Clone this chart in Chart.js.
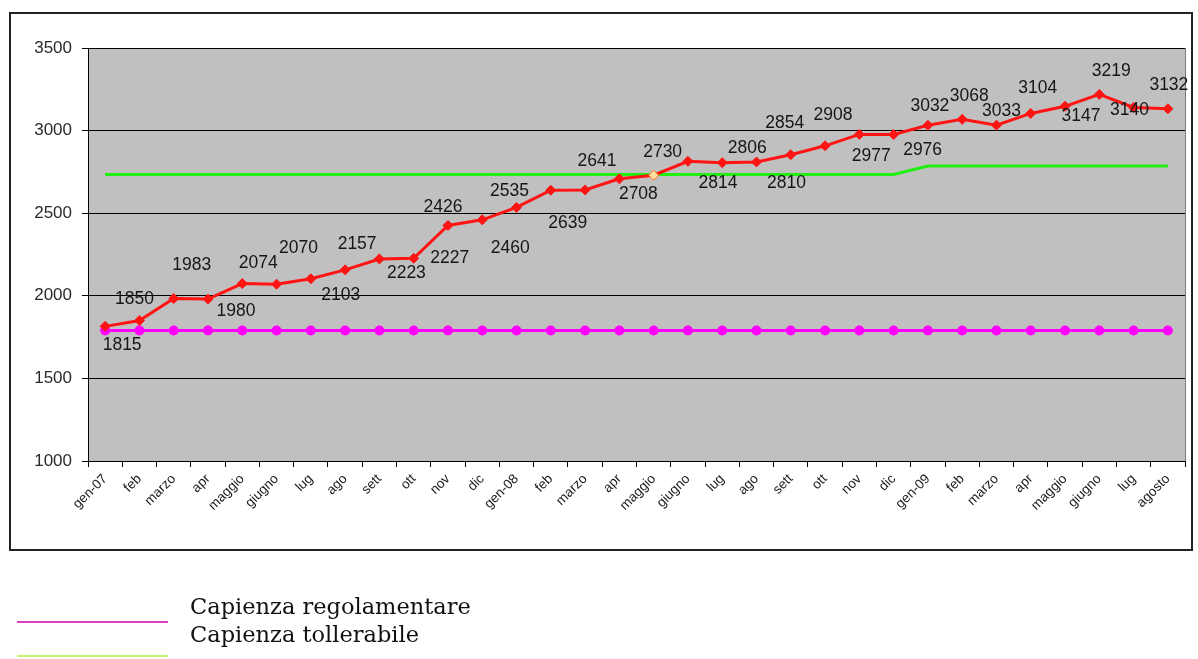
<!DOCTYPE html>
<html>
<head>
<meta charset="utf-8">
<script src="https://cdn.jsdelivr.net/npm/chart.js@4/dist/chart.umd.min.js"></script>
<style>
  html, body { margin: 0; padding: 0; background: #ffffff; }
  #wrap { width: 1198px; height: 659px; position: relative; }
</style>
</head>
<body>
<div id="wrap"><canvas id="c" width="1198" height="659"></canvas></div>
<script>
// Months, Jan 2007 - Aug 2009
const months = ['gen-07','feb','marzo','apr','maggio','giugno','lug','ago','sett','ott','nov','dic',
                'gen-08','feb','marzo','apr','maggio','giugno','lug','ago','sett','ott','nov','dic',
                'gen-09','feb','marzo','apr','maggio','giugno','lug','agosto'];

// Presenze (detainees present)
const presenze = [1815,1850,1983,1980,2074,2070,2103,2157,2223,2227,2426,2460,
                  2535,2639,2641,2708,2730,2814,2806,2810,2854,2908,2977,2976,
                  3032,3068,3033,3104,3147,3219,3140,3132];

// Capienza regolamentare
const capRegolamentare = [1790,1790,1790,1790,1790,1790,1790,1790,1790,1790,1790,1790,
                          1790,1790,1790,1790,1790,1790,1790,1790,1790,1790,1790,1790,
                          1790,1790,1790,1790,1790,1790,1790,1790];

// Capienza tollerabile
const capTollerabile = [2735,2735,2735,2735,2735,2735,2735,2735,2735,2735,2735,2735,
                        2735,2735,2735,2735,2735,2735,2735,2735,2735,2735,2735,2735,
                        2786,2786,2786,2786,2786,2786,2786,2786];

const yTicks = [1000,1500,2000,2500,3000,3500];

// value-label offsets (px) from each point
const labelDX = [17,-5,18,28,16,22,30,12,27,36,-5,28,-7,17,12,19,9,30,25,30,-6,8,12,29,2,7,5,7,16,12,-4,1];
const labelDY = [19,-21,-33,12,-20,-36,16,-26,14,0,-18,28,-16,33,-29,15,-23,22,-14,21,-32,-31,22,16,-19,-23,-14,-25,10,-23,3,-24];

const PLOT_L = 88, PLOT_R = 1185, PLOT_T = 48, PLOT_B = 461;

const frame = {
  id: 'frame',
  beforeDraw(chart) {
    const ctx = chart.ctx, a = chart.chartArea;
    ctx.save();
    ctx.fillStyle = '#ffffff';
    ctx.fillRect(0, 0, chart.width, chart.height);
    // outer box
    ctx.strokeStyle = '#222';
    ctx.lineWidth = 2;
    ctx.strokeRect(10, 13, 1182, 537);
    // plot background
    ctx.fillStyle = '#c0c0c0';
    ctx.fillRect(a.left, a.top, a.right - a.left, a.bottom - a.top);
    ctx.strokeStyle = '#7a7a7a';
    ctx.lineWidth = 1;
    ctx.beginPath();
    ctx.moveTo(a.right + 0.5, a.top);
    ctx.lineTo(a.right + 0.5, a.bottom);
    ctx.stroke();
    ctx.restore();
  },
  afterDraw(chart) {
    const ctx = chart.ctx;
    const meta = chart.getDatasetMeta(2);
    ctx.save();
    ctx.font = '17.5px "Liberation Sans", Arial, sans-serif';
    ctx.fillStyle = '#161616';
    ctx.textAlign = 'center';
    ctx.textBaseline = 'middle';
    meta.data.forEach((pt, i) => {
      ctx.fillText(String(presenze[i]), pt.x + labelDX[i], pt.y + labelDY[i]);
    });
    // legend below the box
    ctx.lineWidth = 2;
    ctx.strokeStyle = '#e040c0';
    ctx.beginPath(); ctx.moveTo(17, 622); ctx.lineTo(168, 622); ctx.stroke();
    ctx.strokeStyle = '#c8f070';
    ctx.beginPath(); ctx.moveTo(17, 656); ctx.lineTo(168, 656); ctx.stroke();
    ctx.font = '22.5px "DejaVu Serif", "Liberation Serif", serif';
    ctx.fillStyle = '#111';
    ctx.textAlign = 'left';
    ctx.textBaseline = 'middle';
    ctx.fillText('Capienza regolamentare', 190, 608);
    ctx.fillText('Capienza tollerabile', 190, 636);
    ctx.restore();
  }
};

new Chart(document.getElementById('c'), {
  type: 'line',
  data: {
    labels: months,
    datasets: [
      {
        label: 'Capienza regolamentare',
        data: capRegolamentare,
        borderColor: '#ff00ff',
        backgroundColor: '#ff00ff',
        borderWidth: 3,
        pointRadius: 5,
        pointStyle: 'circle',
        pointBorderWidth: 0,
        order: 2
      },
      {
        label: 'Capienza tollerabile',
        data: capTollerabile,
        borderColor: '#22ee11',
        borderWidth: 3,
        pointRadius: 0,
        tension: 0,
        order: 1
      },
      {
        label: 'Presenze',
        data: presenze,
        borderColor: '#ff1414',
        backgroundColor: presenze.map((v, i) => i === 16 ? '#ffe0a0' : '#ff1414'),
        pointBorderColor: presenze.map((v, i) => i === 16 ? '#ff7020' : '#ff1414'),
        borderWidth: 3,
        pointRadius: 5,
        pointStyle: 'rectRot',
        pointBorderWidth: 1,
        order: 0
      }
    ]
  },
  options: {
    responsive: false,
    animation: false,
    events: [],
    layout: { padding: { left: 10, top: PLOT_T, right: 1198 - PLOT_R, bottom: 659 - PLOT_B - 85 } },
    plugins: { legend: { display: false }, tooltip: { enabled: false } },
    scales: {
      x: {
        offset: true,
        afterFit(scale) { scale.height = 85; },
        grid: { offset: true, drawOnChartArea: false, drawTicks: true, tickLength: 6, color: '#000' },
        border: { display: true, color: '#000', width: 1 },
        ticks: {
          autoSkip: false,
          maxRotation: 45, minRotation: 45,
          color: '#1a1a1a',
          padding: 4,
          font: { family: '"Liberation Sans", Arial, sans-serif', size: 13.5 }
        }
      },
      y: {
        min: 1000, max: 3500,
        afterFit(scale) { scale.width = PLOT_L - 10; },
        afterBuildTicks(scale) { scale.ticks = yTicks.map(v => ({ value: v })); },
        grid: { color: '#000', lineWidth: 1, tickLength: 6, tickColor: '#000' },
        border: { display: true, color: '#000', width: 1 },
        ticks: {
          color: '#2a2a2a',
          padding: 10,
          callback: v => String(v),
          font: { family: '"Liberation Sans", Arial, sans-serif', size: 17 }
        }
      }
    }
  },
  plugins: [frame]
});
</script>
</body>
</html>
